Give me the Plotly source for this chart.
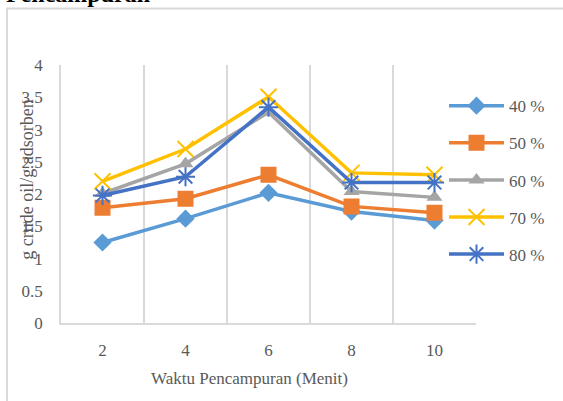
import plotly.graph_objects as go

W, H = 563, 401

categories = ["2", "4", "6", "8", "10"]
series_names = ["40 %", "50 %", "60 %", "70 %", "80 %"]
s40 = [1.25, 1.62, 2.02, 1.73, 1.59]
s50 = [1.79, 1.93, 2.30, 1.81, 1.71]
s60 = [2.01, 2.47, 3.27, 2.04, 1.95]
s70 = [2.20, 2.70, 3.51, 2.33, 2.30]
s80 = [1.98, 2.27, 3.35, 2.18, 2.18]
y_ticks = [0, 0.5, 1, 1.5, 2, 2.5, 3, 3.5, 4]
y_tick_text = ["0", "0.5", "1", "1.5", "2", "2.5", "3", "3.5", "4"]

colors = ["#5B9BD5", "#ED7D31", "#A5A5A5", "#FFC000", "#4472C4"]
symbols = ["diamond", "square", "triangle-up", "x-thin", "asterisk"]
sizes = [14, 16, 14, 16, 16]
values = [s40, s50, s60, s70, s80]

FONT = "Liberation Serif"
GRAY = "#595959"

# empirical correction of the vertical placement observed in the renderer
Y_OFF, Y_SCALE = 8.5, 0.957

def px(x):
    return x / W

def py(y):
    return 1 - ((y - Y_OFF) / Y_SCALE) / H

fig = go.Figure()
for name, vals, c, sym, sz in zip(series_names, values, colors, symbols, sizes):
    open_sym = sym in ("x-thin", "asterisk")
    fig.add_trace(go.Scatter(
        x=categories, y=vals, name=name, mode="lines+markers",
        legendgroup=name,
        line=dict(color=c, width=3.5),
        marker=dict(symbol=sym, size=sz, color=c,
                    line=dict(color=c, width=2 if open_sym else 0)),
    ))

fig.update_layout(
    width=W, height=H,
    margin=dict(l=0, r=0, t=0, b=0),
    paper_bgcolor="white", plot_bgcolor="white",
    font=dict(family=FONT, size=17, color=GRAY),
    xaxis=dict(
        domain=[px(61), px(476)],
        type="category", tickson="boundaries",
        showgrid=True, gridcolor="#D9D9D9", gridwidth=1.5,
        showline=True, linecolor="#D9D9D9", linewidth=1.5,
        ticks="", ticklabelstandoff=11,
        tickfont=dict(family=FONT, size=17, color=GRAY),
        range=[-0.5, 4.5], fixedrange=True,
    ),
    yaxis=dict(
        domain=[py(324), py(65)],
        range=[0, 4], tickvals=y_ticks, ticktext=y_tick_text,
        showgrid=False, zeroline=False,
        showline=True, linecolor="#D9D9D9", linewidth=1.5,
        ticks="", ticklabelstandoff=13,
        tickfont=dict(family=FONT, size=17, color=GRAY),
    ),
    legend=dict(
        x=px(444), y=py(88), xanchor="left", yanchor="top",
        bgcolor="rgba(0,0,0,0)",
        font=dict(family=FONT, size=17, color=GRAY),
        itemwidth=55, tracegroupgap=12,
    ),
    shapes=[dict(type="rect", xref="paper", yref="paper",
                 x0=px(7), x1=1.2, y0=-0.2, y1=py(8),
                 line=dict(color="#D9D9D9", width=2), fillcolor="rgba(0,0,0,0)",
                 layer="below")],
    annotations=[
        dict(text="<b>Pencampuran</b>", xref="paper", yref="paper",
             x=px(4), y=py(8), xanchor="left", yanchor="bottom", showarrow=False,
             font=dict(family=FONT, size=24, color="black")),
        dict(text="Waktu Pencampuran (Menit)", xref="paper", yref="paper",
             x=px(249), y=py(380), xanchor="center", yanchor="middle", showarrow=False,
             font=dict(family=FONT, size=17, color=GRAY)),
        dict(text="g crude oil/g adsorben", xref="paper", yref="paper",
             x=px(27), y=py(180), xanchor="center", yanchor="middle", showarrow=False,
             textangle=-90, font=dict(family=FONT, size=18, color=GRAY)),
    ],
)

fig.write_html("out.html", config={"displayModeBar": False},
               post_script="document.body.style.margin='0';")
